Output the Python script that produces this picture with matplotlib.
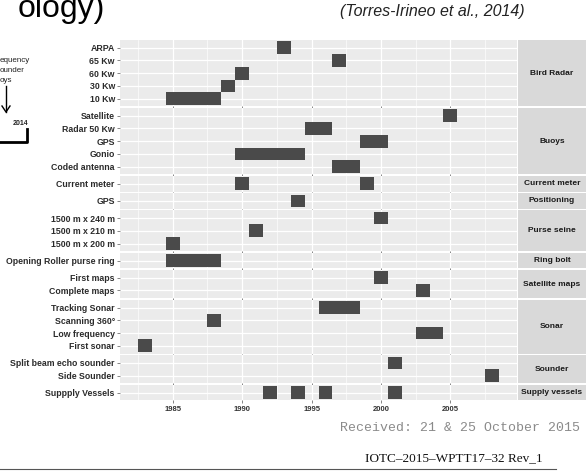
import matplotlib
matplotlib.use("Agg")
import matplotlib.pyplot as plt
from matplotlib.lines import Line2D

plt.rcParams['font.family'] = ['Liberation Sans', 'DejaVu Sans']

# ---------------- data ----------------
facet_names = ["Bird Radar", "Buoys", "Current meter", "Positioning", "Purse seine",
               "Ring bolt", "Satellite maps", "Sonar", "Sounder", "Supply vessels"]

bird_radar_labels = ["ARPA", "65 Kw", "60 Kw", "30 Kw", "10 Kw"]
bird_radar_years = [[1993], [1997], [1990], [1989], [1985, 1986, 1987, 1988]]

buoys_labels = ["Satellite", "Radar 50 Kw", "GPS", "Gonio", "Coded antenna"]
buoys_years = [[2005], [1995, 1996], [1999, 2000], [1990, 1991, 1992, 1993, 1994], [1997, 1998]]

current_meter_labels = ["Current meter"]
current_meter_years = [[1990, 1999]]

positioning_labels = ["GPS"]
positioning_years = [[1994]]

purse_seine_labels = ["1500 m x 240 m", "1500 m x 210 m", "1500 m x 200 m"]
purse_seine_years = [[2000], [1991], [1985]]

ring_bolt_labels = ["Opening Roller purse ring"]
ring_bolt_years = [[1985, 1986, 1987, 1988]]

satellite_maps_labels = ["First maps", "Complete maps"]
satellite_maps_years = [[2000], [2003]]

sonar_labels = ["Tracking Sonar", "Scanning 360\u00b0", "Low frequency", "First sonar"]
sonar_years = [[1996, 1997, 1998], [1988], [2003, 2004], [1983]]

sounder_labels = ["Split beam echo sounder", "Side Sounder"]
sounder_years = [[2001], [2008]]

supply_labels = ["Suppply Vessels"]
supply_years = [[1992, 1994, 1996, 2001]]

x_ticks = [1985, 1990, 1995, 2000, 2005]

facet_labels = [bird_radar_labels, buoys_labels, current_meter_labels, positioning_labels,
                purse_seine_labels, ring_bolt_labels, satellite_maps_labels, sonar_labels,
                sounder_labels, supply_labels]
facet_years = [bird_radar_years, buoys_years, current_meter_years, positioning_years,
               purse_seine_years, ring_bolt_years, satellite_maps_years, sonar_years,
               sounder_years, supply_years]

# ---------------- layout ----------------
W, H = 588, 473
fig = plt.figure(figsize=(W / 100, H / 100), dpi=100)
fig.patch.set_facecolor("white")


def px_axes(x0, y0, w, h):
    return fig.add_axes([x0 / W, 1 - (y0 + h) / H, w / W, h / H])


panel_x, panel_w = 120, 397
strip_x, strip_w = 518, 68
unit = 12.75
gap = 1.8
pad = 0.6
xlim = (1981.2, 2009.8)

panel_bg = "#EBEBEB"
strip_bg = "#D9D9D9"
bar_col = "#4A4A4A"

y = 40.0
axes = []
for name, labels, years in zip(facet_names, facet_labels, facet_years):
    n = len(labels)
    h = (n - 1 + 2 * pad) * unit
    ax = px_axes(panel_x, y, panel_w, h)
    ax.set_facecolor(panel_bg)
    for s in ax.spines.values():
        s.set_visible(False)
    ax.set_xlim(*xlim)
    ax.set_ylim(n - 1 + pad, -pad)
    # grid
    for xv in x_ticks:
        ax.axvline(xv, color="white", lw=0.9, zorder=0.5)
    for xv in [1982.5, 1987.5, 1992.5, 1997.5, 2002.5, 2007.5]:
        ax.axvline(xv, color="white", lw=0.45, zorder=0.5)
    for i in range(n):
        ax.axhline(i, color="white", lw=0.9, zorder=0.5)
    # tiles
    for i, yrs in enumerate(years):
        yrs = sorted(yrs)
        runs = []
        for yr in yrs:
            if runs and yr == runs[-1][1] + 1:
                runs[-1][1] = yr
            else:
                runs.append([yr, yr])
        for a, b in runs:
            ax.barh(i, b - a + 1, left=a - 0.5, height=1.0, color=bar_col,
                    linewidth=0, zorder=2)
    ax.set_yticks(range(n))
    ax.set_yticklabels(labels, fontsize=6.3, fontweight="bold", color="#2b2b2b")
    ax.tick_params(axis="y", length=2.2, width=0.5, color="#555555", pad=1.5)
    ax.set_xticks(x_ticks)
    ax.tick_params(axis="x", length=2.2, width=0.5, color="#555555", pad=2)
    ax.set_xticklabels([])
    # strip
    sax = px_axes(strip_x, y, strip_w, h)
    sax.set_facecolor(strip_bg)
    for s in sax.spines.values():
        s.set_visible(False)
    sax.set_xticks([])
    sax.set_yticks([])
    sax.text(0.5, 0.5, name, transform=sax.transAxes, ha="center", va="center",
             fontsize=6.0, fontweight="bold", color="#1a1a1a")
    axes.append(ax)
    y += h + gap

axes[-1].set_xticklabels([str(t) for t in x_ticks], fontsize=5.5,
                         fontweight="bold", color="#333333")

# ---------------- surrounding slide text ----------------
fig.text(105 / W, 1 - 17 / H, "ology)", ha="right", va="baseline",
         fontsize=23, color="black")
fig.text(340 / W, 1 - 16 / H, "(Torres-Irineo et al., 2014)", ha="left",
         va="baseline", fontsize=11.5, style="italic", color="#222222")

for txt, yy in [("equency", 60), ("ounder", 70), ("oys", 80)]:
    fig.text(0, 1 - yy / H, txt, ha="left", va="center", fontsize=5.8, color="#222222")
fig.add_artist(Line2D([6 / W, 6 / W], [1 - 86 / H, 1 - 112 / H], color="black", lw=1.0))
fig.add_artist(Line2D([2 / W, 6 / W, 10 / W], [1 - 106 / H, 1 - 112 / H, 1 - 106 / H],
                      color="black", lw=1.0))
fig.text(20 / W, 1 - 123 / H, "2014", ha="center", va="center", fontsize=5,
         fontweight="bold", color="#222222")
fig.add_artist(Line2D([0, 27 / W, 27 / W], [1 - 142 / H, 1 - 142 / H, 1 - 129 / H],
                      color="black", lw=2.0))

fig.text(580 / W, 1 - 428 / H, "Received: 21 & 25 October 2015", ha="right",
         va="center", fontsize=9.5, family="Liberation Mono", color="#8a8a8a")
fig.text(454 / W, 1 - 458 / H, "IOTC\u20132015\u2013WPTT17\u201332 Rev_1", ha="center",
         va="center", fontsize=9.5, family="Liberation Serif", color="#111111")
fig.add_artist(Line2D([0, 556 / W], [1 - 469 / H, 1 - 469 / H], color="#555555", lw=0.8))

fig.savefig("out.png", dpi=100)
